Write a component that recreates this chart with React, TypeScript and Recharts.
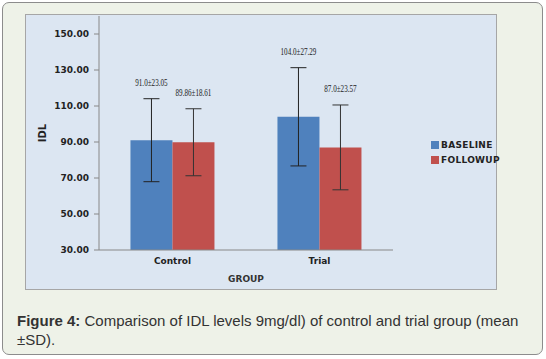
import { BarChart, Bar, XAxis, YAxis, ErrorBar, LabelList, Label } from 'recharts';

const groups = ['Control', 'Trial'];
const baselineMean = [91.0, 104.0];
const baselineSd = [23.05, 27.29];
const followupMean = [89.86, 87.0];
const followupSd = [18.61, 23.57];
const baselineText = ['91.0±23.05', '104.0±27.29'];
const followupText = ['89.86±18.61', '87.0±23.57'];
const yTicks = [30, 50, 70, 90, 110, 130, 150];
const seriesNames = ['BASELINE', 'FOLLOWUP'];

const BLUE = '#4f81bd';
const RED = '#c0504d';

const data = groups.map((g, i) => ({
  group: g,
  baseline: baselineMean[i],
  baselineSd: baselineSd[i],
  followup: followupMean[i],
  followupSd: followupSd[i],
}));

// etiqueta "media±DE" encima de la barra de error
const makeLabel = (sds: number[], texts: string[]) => (props: any) => {
  const { x, y, width, height, index, value } = props;
  const perUnit = height / (value - 30);
  const errTop = y - sds[index] * perUnit;
  const txt = texts[index];
  return (
    <text
      x={x + width / 2}
      y={errTop - 13}
      textAnchor="middle"
      fontFamily="Liberation Serif"
      fontSize={10}
      fill="#222"
      textLength={txt.length * 3.25}
      lengthAdjust="spacingAndGlyphs"
    >
      {txt}
    </text>
  );
};

const LegendBox = () => (
  <div style={{ position: 'absolute', left: 431, top: 137, fontFamily: 'DejaVu Sans', fontWeight: 'bold', fontSize: 9, color: '#222' }}>
    {seriesNames.map((name, i) => (
      <div key={name} style={{ display: 'flex', alignItems: 'center', height: 15 }}>
        <span style={{ width: 8, height: 8, background: i === 0 ? BLUE : RED, display: 'inline-block', marginRight: 2 }} />
        <span style={{ letterSpacing: 0.3 }}>{name}</span>
      </div>
    ))}
  </div>
);

const tickStyle = { fontFamily: 'DejaVu Sans', fontWeight: 'bold', fontSize: 9, fill: '#222' };

export default function App() {
  return (
    <div style={{ position: 'absolute', left: 0, top: 0, width: 546, height: 359, background: '#fff' }}>
      <div
        style={{
          position: 'absolute',
          left: 2,
          top: 2,
          width: 541,
          height: 353,
          boxSizing: 'border-box',
          border: '1px solid #8c8c8c',
          borderRadius: 7,
          background: '#eef2e8',
        }}
      />
      <div style={{ position: 'absolute', left: 26, top: 15, width: 470, height: 274, background: '#dce6f2', outline: '1px solid #a6a6a6' }}>
        <BarChart
          width={470}
          height={274}
          data={data}
          margin={{ top: 1, right: 103, bottom: 0, left: 0 }}
          barCategoryGap="21.4%"
          barGap={0}
        >
          <XAxis
            dataKey="group"
            height={39}
            tickLine={false}
            axisLine={{ stroke: '#888' }}
            tick={tickStyle}
          >
            <Label
              value="GROUP"
              position="insideBottom"
              offset={7}
              style={{ fontFamily: 'DejaVu Sans', fontWeight: 'bold', fontSize: 9, fill: '#333' }}
            />
          </XAxis>
          <YAxis
            width={73}
            domain={[30, 160]}
            ticks={yTicks}
            tickFormatter={(v: number) => v.toFixed(2)}
            tickSize={5}
            tickMargin={5}
            axisLine={{ stroke: '#888' }}
            tickLine={{ stroke: '#888' }}
            tick={tickStyle}
          >
            <Label
              value="IDL"
              angle={-90}
              position="insideLeft"
              offset={16}
              style={{ fontFamily: 'DejaVu Sans', fontWeight: 'bold', fontSize: 10, fill: '#222', textAnchor: 'middle' }}
            />
          </YAxis>
          <Bar dataKey="baseline" name="BASELINE" fill={BLUE} isAnimationActive={false}>
            <ErrorBar dataKey="baselineSd" width={8} stroke="#222" strokeWidth={1} />
            <LabelList dataKey="baseline" content={makeLabel(baselineSd, baselineText)} />
          </Bar>
          <Bar dataKey="followup" name="FOLLOWUP" fill={RED} isAnimationActive={false}>
            <ErrorBar dataKey="followupSd" width={8} stroke="#333" strokeWidth={1} />
            <LabelList dataKey="followup" content={makeLabel(followupSd, followupText)} />
          </Bar>
        </BarChart>
      </div>
      <LegendBox />
      <div
        style={{
          position: 'absolute',
          left: 17,
          top: 311,
          width: 520,
          fontFamily: 'Liberation Sans',
          fontSize: 15,
          lineHeight: '19px',
          color: '#333',
        }}
      >
        <b>Figure 4:</b> Comparison of IDL levels 9mg/dl) of control and trial group (mean ±SD).
      </div>
    </div>
  );
}
